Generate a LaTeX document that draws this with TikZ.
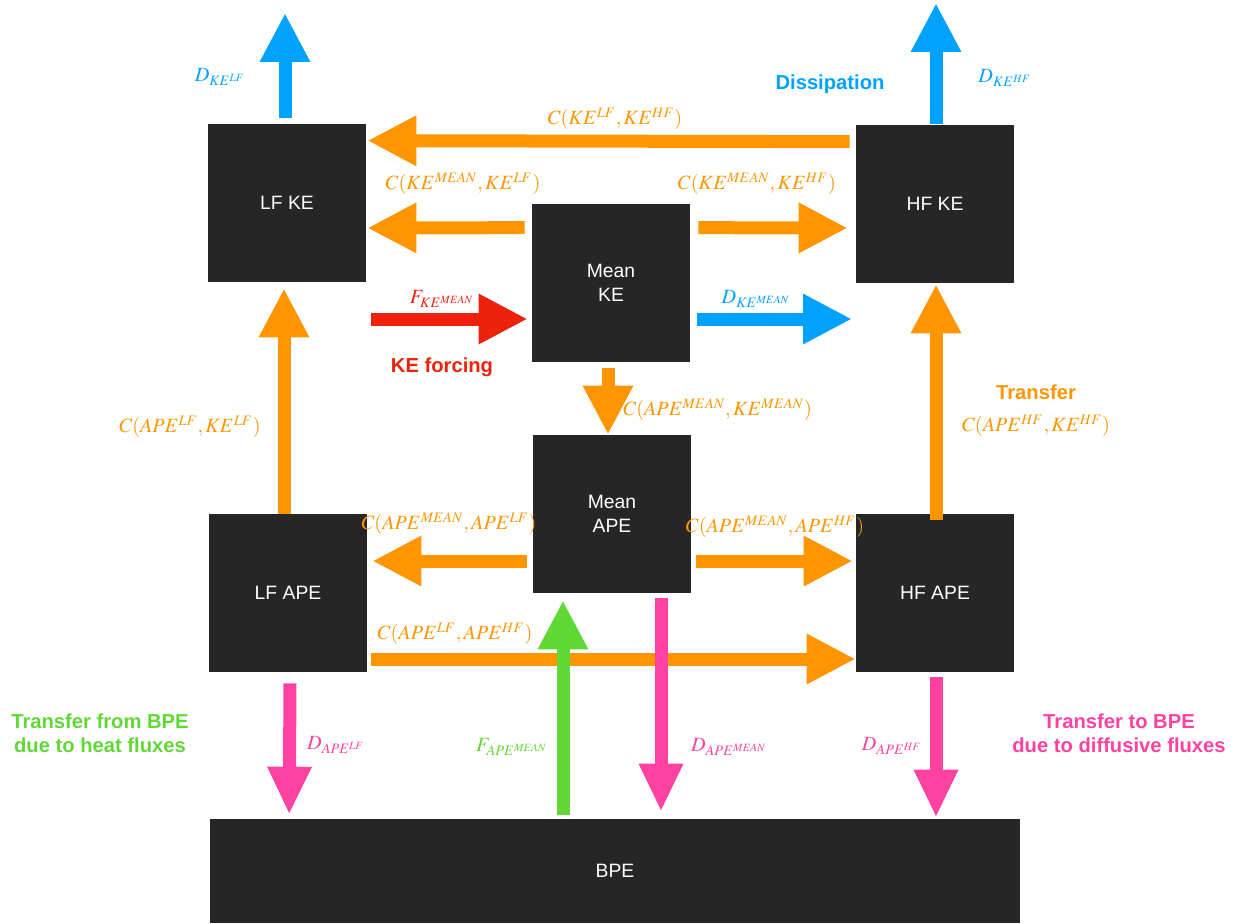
\documentclass[tikz,border=0pt]{standalone}
\usepackage{mathptmx}
\usepackage[no-math]{fontspec}
\setsansfont{Liberation Sans}
\DeclareMathSizes{11.5}{11.5}{8.2}{6.3}
\usetikzlibrary{arrows.meta,calc}
\definecolor{Ink}{HTML}{262626}
\definecolor{Orange}{HTML}{FF9500}
\definecolor{Blue}{HTML}{00A2FF}
\definecolor{Red}{HTML}{EE220C}
\definecolor{Green}{HTML}{61D836}
\definecolor{Pink}{HTML}{FF42A1}

\begin{document}
\begin{tikzpicture}[
      x=0.02cm,y=-0.02cm,
      box/.style={fill=Ink,text=white,inner sep=0pt,minimum size=3.16cm,
        align=center,font=\sffamily\fontsize{11}{13.5}\selectfont},
      flow/.style={line width=0.26cm,-{Triangle[length=0.98cm,width=0.94cm]}},
      drain/.style={flow,color=Pink,-{Triangle[length=0.96cm,width=0.82cm]}},
      coef/.style={color=Orange,font=\fontsize{11.5}{13.5}\selectfont},
      rate/.style={font=\fontsize{11.5}{13.5}\selectfont},
      note/.style={align=center,font=\sffamily\bfseries\fontsize{11.5}{13.5}\selectfont}
    ]
      \useasboundingbox (0,0) rectangle (1246,923);

      % energy reservoirs
      \node[box] (lfke) at (287,203) {LF KE};
      \node[box] (hfke) at (935,204) {HF KE};
      \node[box] (meanke) at (611,283) {Mean\\KE};
      \node[box] (meanape) at (612,514) {Mean\\APE};
      \node[box] (lfape) at (288,593) {LF APE};
      \node[box] (hfape) at (935,593) {HF APE};
      \node[box,minimum width=16.22cm,minimum height=2.08cm] (bpe) at (615,871) {BPE};

      % free ends
      \coordinate (lfout) at (285,13);
      \coordinate (hfout) at (936,3);
      \coordinate (forcein) at (371,319);
      \coordinate (meanout) at (852,319);

      % dissipation of KE
      \draw[flow,color=Blue] ($(lfke.north)+(-2,-6)$) -- (lfout);
      \draw[flow,color=Blue] ($(hfke.north)+(1,-1)$) -- (hfout);
      \draw[flow,color=Blue] ($(meanke.east)+(7,36)$) -- (meanout);
      \draw[flow,color=Red] (forcein) -- ($(meanke.west)+(-4,36)$);

      % conversions
      \draw[flow,color=Orange] ($(hfke.north west)+(-6,17)$) -- ($(lfke.north east)+(1,17)$);
      \draw[flow,color=Orange] ($(meanke.north west)+(-7,24)$) -- ($(lfke.east)+(1,25)$);
      \draw[flow,color=Orange] ($(meanke.north east)+(8,24)$) -- ($(hfke.west)+(-8,24)$);
      \draw[flow,color=Orange] ($(meanke.south)+(-3,6)$) -- ($(meanape.north)+(-4,0)$);
      \draw[flow,color=Orange] ($(lfape.north)+(-4,0)$) -- ($(lfke.south)+(-3,6)$);
      \draw[flow,color=Orange] ($(hfape.north)+(1,6)$) -- ($(hfke.south)+(1,1)$);
      \draw[flow,color=Orange] ($(meanape.west)+(-6,47)$) -- ($(lfape.east)+(5,-32)$);
      \draw[flow,color=Orange] ($(meanape.east)+(5,47)$) -- ($(hfape.west)+(-3,-32)$);
      \draw[flow,color=Orange] ($(lfape.east)+(4,66)$) -- ($(hfape.west)+(0,66)$);

      % exchanges with BPE
      \draw[flow,color=Green] ($(bpe.north)+(-52,-4)$) -- ($(meanape.south)+(-49,7)$);
      \draw[drain] ($(meanape.south)+(49,5)$) -- ($(bpe.north)+(46,-7)$);
      \draw[drain] ($(lfape.south)+(2,11)$) -- ($(bpe.north west)+(80,-4)$);
      \draw[drain] ($(hfape.south)+(1,5)$) -- ($(bpe.north)+(321,-1)$);

      % labels
      \node[rate,color=Blue] (dkelf) at (220,77) {$D_{KE^{LF}}$};
      \node[rate,color=Blue] (dkehf) at (1005,78) {$D_{KE^{HF}}$};
      \node[note,color=Blue] (dissip) at (830,84) {Dissipation};
      \node[coef] (clfhf) at (615,119) {$C(KE^{LF},KE^{HF})$};
      \node[coef] (cmeanlf) at (463,184) {$C(KE^{MEAN},KE^{LF})$};
      \node[coef] (cmeanhf) at (757,184) {$C(KE^{MEAN},KE^{HF})$};
      \node[rate,color=Red] (fkemean) at (442,299) {$F_{KE^{MEAN}}$};
      \node[note,color=Red] (forcing) at (442,367) {KE forcing};
      \node[rate,color=Blue] (dkemean) at (756,299) {$D_{KE^{MEAN}}$};
      \node[coef,anchor=west,inner sep=0pt] (capekemean) at (623,410) {$C(APE^{MEAN},KE^{MEAN})$};
      \node[coef] (capekelf) at (190,427) {$C(APE^{LF},KE^{LF})$};
      \node[note,color=Orange] (transfer) at (1036,392) {Transfer};
      \node[coef] (capekehf) at (1036,426) {$C(APE^{HF},KE^{HF})$};
      \node[coef] (capemeanlf) at (449,524) {$C(APE^{MEAN},APE^{LF})$};
      \node[coef] (capemeanhf) at (775,527) {$C(APE^{MEAN},APE^{HF})$};
      \node[coef] (capelfhf) at (455,634) {$C(APE^{LF},APE^{HF})$};
      \node[note,color=Green] (heatnote) at (100,733) {Transfer from BPE\\due to heat fluxes};
      \node[rate,color=Pink] (dapelf) at (336,745) {$D_{APE^{LF}}$};
      \node[rate,color=Green] (fapemean) at (512,747) {$F_{APE^{MEAN}}$};
      \node[rate,color=Pink] (dapemean) at (729,747) {$D_{APE^{MEAN}}$};
      \node[rate,color=Pink] (dapehf) at (892,746) {$D_{APE^{HF}}$};
      \node[note,color=Pink] (diffnote) at (1119,733) {Transfer to BPE\\due to diffusive fluxes};
    \end{tikzpicture}
\end{document}
